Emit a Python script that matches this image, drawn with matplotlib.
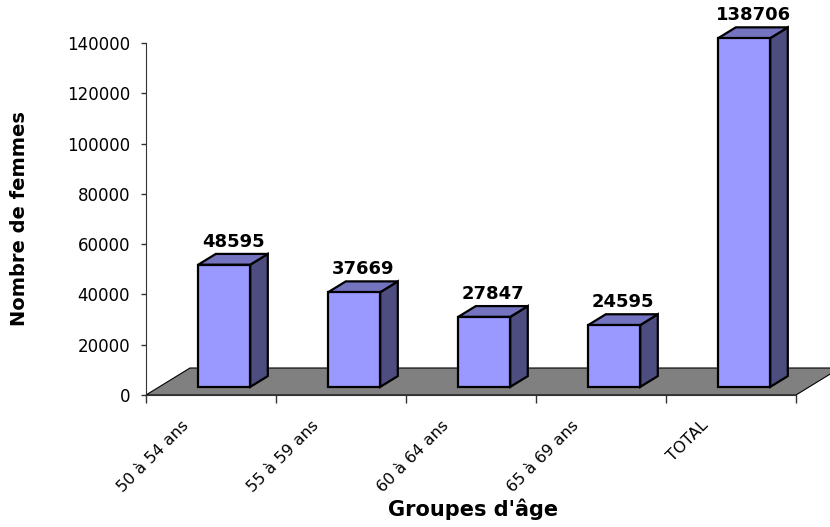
import matplotlib
matplotlib.use("Agg")
import matplotlib.pyplot as plt
from matplotlib.patches import Polygon

groupes = ["50 à 54 ans", "55 à 59 ans", "60 à 64 ans", "65 à 69 ans", "TOTAL"]
femmes = [48595, 37669, 27847, 24595, 138706]
yticks = [0, 20000, 40000, 60000, 80000, 100000, 120000, 140000]

# couleurs facon excel
c_face = "#9999FF"
c_side = "#4D4D80"
c_top = "#7373C0"
c_sol = "#808080"

fig = plt.figure(figsize=(8.3, 5.27), dpi=100)
ax = fig.add_axes([146/830, 132/527, 650/830, 352/527])
ax.set_xlim(0, 5)
ax.set_ylim(0, 140000)

# profondeur du sol en unites de donnees
DX = 44/130
DY = 27/352*140000
p0, p1 = 0.3, 0.7   # position de la barre dans la profondeur
w = 0.4

sol = Polygon([(0, 0), (5, 0), (5+DX, DY), (DX, DY)], closed=True,
              facecolor=c_sol, edgecolor="black", lw=0.8, clip_on=False, zorder=1)
ax.add_patch(sol)

for i, v in enumerate(femmes):
    x0 = i + 0.3 + p0*DX
    y0 = p0*DY
    x1 = x0 + w
    y1 = y0 + v
    ddx = (p1-p0)*DX
    ddy = (p1-p0)*DY
    side = Polygon([(x1, y0), (x1+ddx, y0+ddy), (x1+ddx, y1+ddy), (x1, y1)],
                   facecolor=c_side, edgecolor="black", lw=1.6, clip_on=False, zorder=3,
                   joinstyle="miter")
    top = Polygon([(x0, y1), (x1, y1), (x1+ddx, y1+ddy), (x0+ddx, y1+ddy)],
                  facecolor=c_top, edgecolor="black", lw=1.6, clip_on=False, zorder=3,
                  joinstyle="miter")
    front = Polygon([(x0, y0), (x1, y0), (x1, y1), (x0, y1)],
                    facecolor=c_face, edgecolor="black", lw=1.6, clip_on=False, zorder=4,
                    joinstyle="miter")
    ax.add_patch(side)
    ax.add_patch(top)
    ax.add_patch(front)
    ax.annotate(str(v), xy=(x0 + w/2 + ddx/2, y1 + ddy), xytext=(0, 7),
                textcoords="offset pixels", ha="center", va="baseline",
                fontsize=13, fontweight="bold", annotation_clip=False, zorder=5)

# etiquettes des categories
for i, g in enumerate(groupes):
    ax.annotate(g, xy=(i + 0.5, 0), xytext=(-25, -28), textcoords="offset pixels",
                rotation=45, ha="right", va="center", rotation_mode="anchor",
                fontsize=11.5, annotation_clip=False)

ax.set_xticks(range(6))
ax.set_xticklabels([])
ax.set_yticks(yticks)
ax.set_yticklabels([str(t) for t in yticks], fontsize=12)
ax.tick_params(axis="x", direction="out", length=5.8, width=1, color="#333333")
ax.tick_params(axis="y", direction="out", length=3.6, width=1, color="#333333", pad=8)
for s in ["top", "right"]:
    ax.spines[s].set_visible(False)
ax.spines["left"].set_color("#333333")
ax.spines["bottom"].set_color("#333333")
ax.patch.set_visible(False)

fig.text(20/830, 1 - 219/527, "Nombre de femmes", rotation=90, ha="center", va="center",
         fontsize=14, fontweight="bold")
fig.text(473/830, 1 - 509/527, "Groupes d'âge", ha="center", va="center",
         fontsize=15, fontweight="bold")

fig.savefig("out.png", dpi=100)
